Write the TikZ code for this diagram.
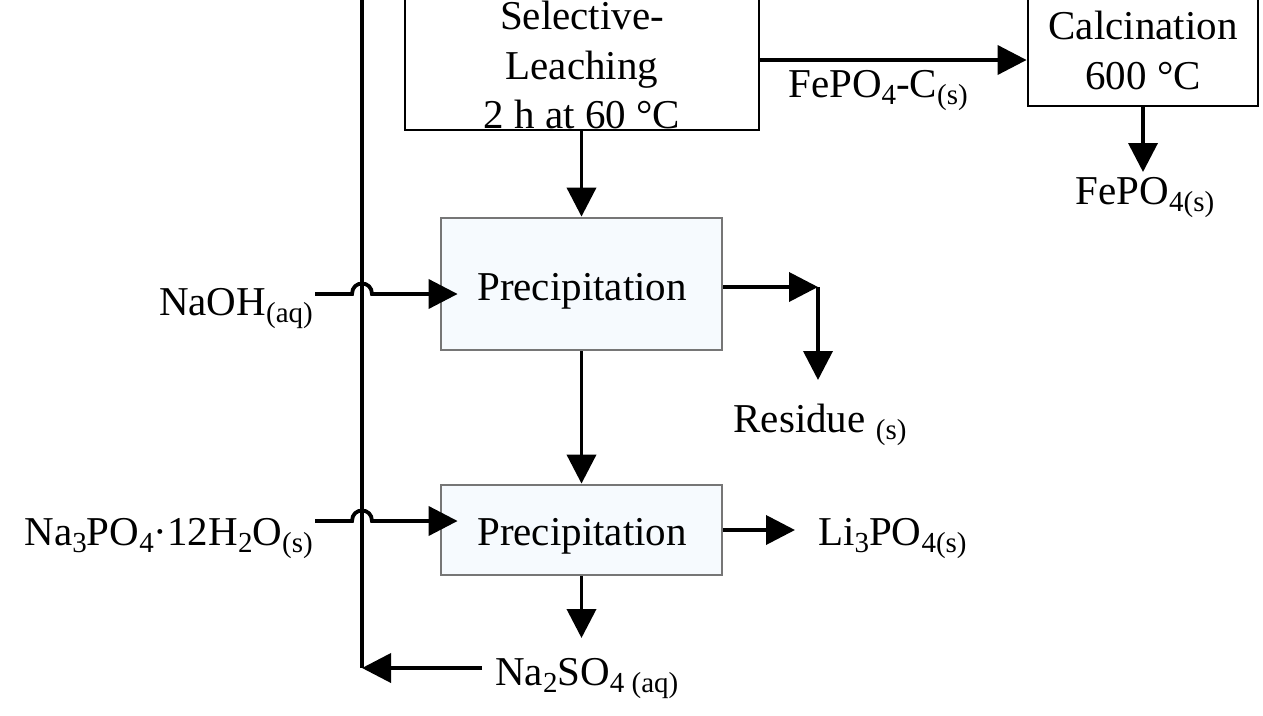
\documentclass[tikz,border=0pt]{standalone}
\usepackage{fontspec}
\setmainfont{Liberation Serif}
\usetikzlibrary{arrows.meta,calc}
\definecolor{pfill}{RGB}{246,250,254}
\definecolor{pdraw}{RGB}{118,118,118}
\newcommand\chs[1]{\raisebox{-7pt}{\fontsize{29}{29}\selectfont #1}}
\begin{document}
\begin{tikzpicture}[x=1pt,y=-1pt,
  txt/.style={font=\fontsize{41}{50}\selectfont, inner sep=0pt},
  boxk/.style={draw=black, line width=2.8pt, fill=white, inner sep=0pt},
  boxp/.style={draw=pdraw, line width=2.8pt, fill=pfill, inner sep=0pt},
  flow/.style={line width=3.8pt, -{Triangle[length=29pt,width=29pt]}},
  plain/.style={line width=3.8pt}
]
\useasboundingbox[fill=white] (0,0) rectangle (1263,715);
% boxes
\node[boxk, minimum width=354pt, minimum height=150pt] (lea) at (582,55) {};
\node[boxk, minimum width=230pt, minimum height=126pt] (cal) at (1143,43) {};
\node[boxp, minimum width=281pt, minimum height=132pt] (p1) at (581.5,284) {};
\node[boxp, minimum width=281pt, minimum height=90pt] (p2) at (581.5,530) {};
% box texts
\node[txt, anchor=base] (lea1) at (582,29) {Selective-};
\node[txt, anchor=base] (lea2) at (582,79) {Leaching};
\node[txt, anchor=base] (lea3) at (582,128) {2 h at 60 °C};
\node[txt, anchor=base] (cal1) at (1143,39) {Calcination};
\node[txt, anchor=base] (cal2) at (1143,89) {600 °C};
\node[txt, anchor=base] (p1t) at (582,300) {Precipitation};
\node[txt, anchor=base] (p2t) at (582,545) {Precipitation};
% labels
\node[txt, anchor=base] (fepoc) at (878,97) {FePO\chs{4}-C\chs{(s)}};
\node[txt, anchor=base] (fepo) at (1145,204) {FePO\chs{4(s)}};
\node[txt, anchor=base east] (naoh) at (313,315) {NaOH\chs{(aq)}};
\node[txt, anchor=base east] (na3) at (313,545) {Na\chs{3}PO\chs{4}·12H\chs{2}O\chs{(s)}};
\node[txt, anchor=base] (res) at (820,432) {Residue \chs{(s)}};
\node[txt, anchor=base west] (li) at (818,545) {Li\chs{3}PO\chs{4(s)}};
\node[txt, anchor=base west] (na2) at (495,685) {Na\chs{2}SO\chs{4 (aq)}};
% coordinates
\coordinate (vtop) at (362,-5);
\coordinate (vbot) at (362,668);
\coordinate (rc) at (818,287);
\coordinate (rend) at (818,380);
\coordinate (liend) at (795,530);
\coordinate (naend) at (581.5,638);
\coordinate (calend) at (1143,172);
% main vertical line
\draw[plain] (vtop) -- (vbot);
% flows
\draw[flow] (lea.south -| p1.north) -- (p1.north);
\draw[flow] (lea.east |- 0,60) -- (cal.west |- 0,60);
\draw[flow] (cal.south) -- (calend);
\draw[flow] (p1.east |- rc) -- (rc);
\draw[flow] (rc) -- (rend);
\draw[flow] (p1.south) -- (p2.north);
\draw[flow] (p2.east |- liend) -- (liend);
\draw[flow] (p2.south) -- (naend);
\draw[flow] ($(na2.west |- vbot)+(-13,0)$) -- (vbot);
% inputs with hops over the vertical line
\draw[flow] (315,294) -- (352,294) .. controls (352,280) and (372,280) .. (372,294) -- ($(p1.west |- 0,294)+(18,0)$);
\draw[flow] (315,521) -- (352,521) .. controls (352,507) and (372,507) .. (372,521) -- ($(p2.west |- 0,521)+(18,0)$);
\end{tikzpicture}
\end{document}
